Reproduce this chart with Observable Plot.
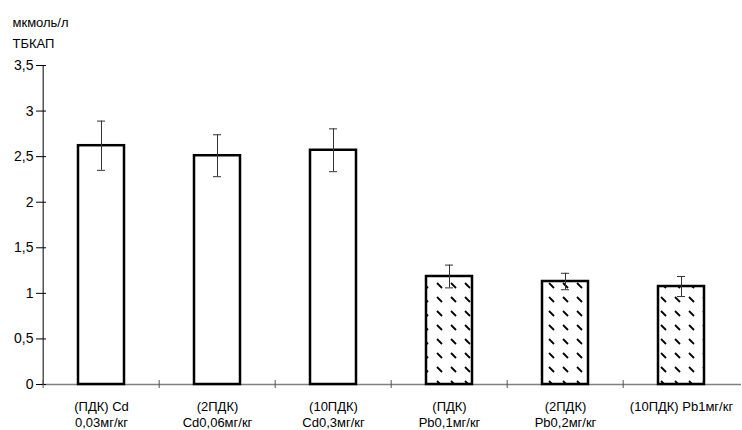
<!DOCTYPE html>
<html><head><meta charset="utf-8">
<script src="https://cdn.jsdelivr.net/npm/d3@7"></script>
<script src="https://cdn.jsdelivr.net/npm/@observablehq/plot@0.6"></script>
<style>body{margin:0;background:#fff;font-family:"Liberation Sans",Arial,sans-serif}</style>
</head><body><div id="chart"></div>
<script>
const categories = ["(ПДК) Cd\n0,03мг/кг", "(2ПДК)\nCd0,06мг/кг", "(10ПДК)\nCd0,3мг/кг", "(ПДК)\nPb0,1мг/кг", "(2ПДК)\nPb0,2мг/кг", "(10ПДК) Pb1мг/кг"];
const values = [2.62, 2.51, 2.57, 1.185, 1.13, 1.075];
const errors = [0.27, 0.23, 0.235, 0.125, 0.09, 0.11];
const hatched = [false, false, false, true, true, true];
const yTicks = [0, 0.5, 1, 1.5, 2, 2.5, 3, 3.5];
const titleLines = ["мкмоль/л", "ТБКАП"];

const data = categories.map((c, i) => ({cat: c, value: values[i], lo: values[i] - errors[i], hi: values[i] + errors[i], hatched: hatched[i]}));
const fmt = d => String(d).replace(".", ",");
const half = 700 / 6 / 2;

const chart = Plot.plot({
  width: 742, height: 430,
  marginTop: 65, marginLeft: 41, marginRight: 1, marginBottom: 46,
  style: {fontFamily: "'Liberation Sans', Arial, sans-serif", background: "white"},
  x: {domain: categories, paddingInner: 0.6, paddingOuter: 0.3, label: null},
  y: {domain: [0, 3.5], label: null},
  marks: [
    Plot.ruleY([0], {stroke: "#808080", strokeWidth: 1.5}),
    Plot.barY(data, {x: "cat", y: "value", fill: d => d.hatched ? "url(#hatch)" : "white", stroke: "black", strokeWidth: 2.5}),
    Plot.ruleX(data, {x: "cat", y1: "lo", y2: "hi", stroke: "#333", strokeWidth: 1}),
    Plot.tickY(data, {x: "cat", y: "lo", stroke: "#333", strokeWidth: 1, inset: 19}),
    Plot.tickY(data, {x: "cat", y: "hi", stroke: "#333", strokeWidth: 1, inset: 19}),
    Plot.ruleX([categories[0]], {x: d => d, y1: 0, y2: 3.5, dx: -half, stroke: "black", strokeWidth: 1}),
    Plot.axisY({ticks: yTicks, tickSize: 0, tickPadding: 8, tickFormat: fmt, fontSize: 14, label: null}),
    Plot.axisY({ticks: yTicks, tickSize: 10, dx: 5, text: null, stroke: "black"}),
    Plot.axisX({tickSize: 8, dx: -half, dy: -4, text: null, stroke: "#555"}),
    Plot.axisX({tickSize: 0, tickPadding: 14, fontSize: 13, lineHeight: 1.3, label: null}),
    Plot.text([titleLines[0]], {frameAnchor: "top-left", text: d => d, dx: -29, dy: -48, textAnchor: "start", fontSize: 13}),
    Plot.text([titleLines[1]], {frameAnchor: "top-left", text: d => d, dx: -29, dy: -27, textAnchor: "start", fontSize: 13})
  ]
});

const ns = "http://www.w3.org/2000/svg";
const defs = document.createElementNS(ns, "defs");
defs.innerHTML = '<pattern id="hatch" patternUnits="userSpaceOnUse" width="14" height="14"><rect width="14" height="14" fill="white"/><path d="M3,3L8,8" stroke="black" stroke-width="1.8"/></pattern>';
chart.insertBefore(defs, chart.firstChild);
document.getElementById("chart").appendChild(chart);
</script></body></html>
